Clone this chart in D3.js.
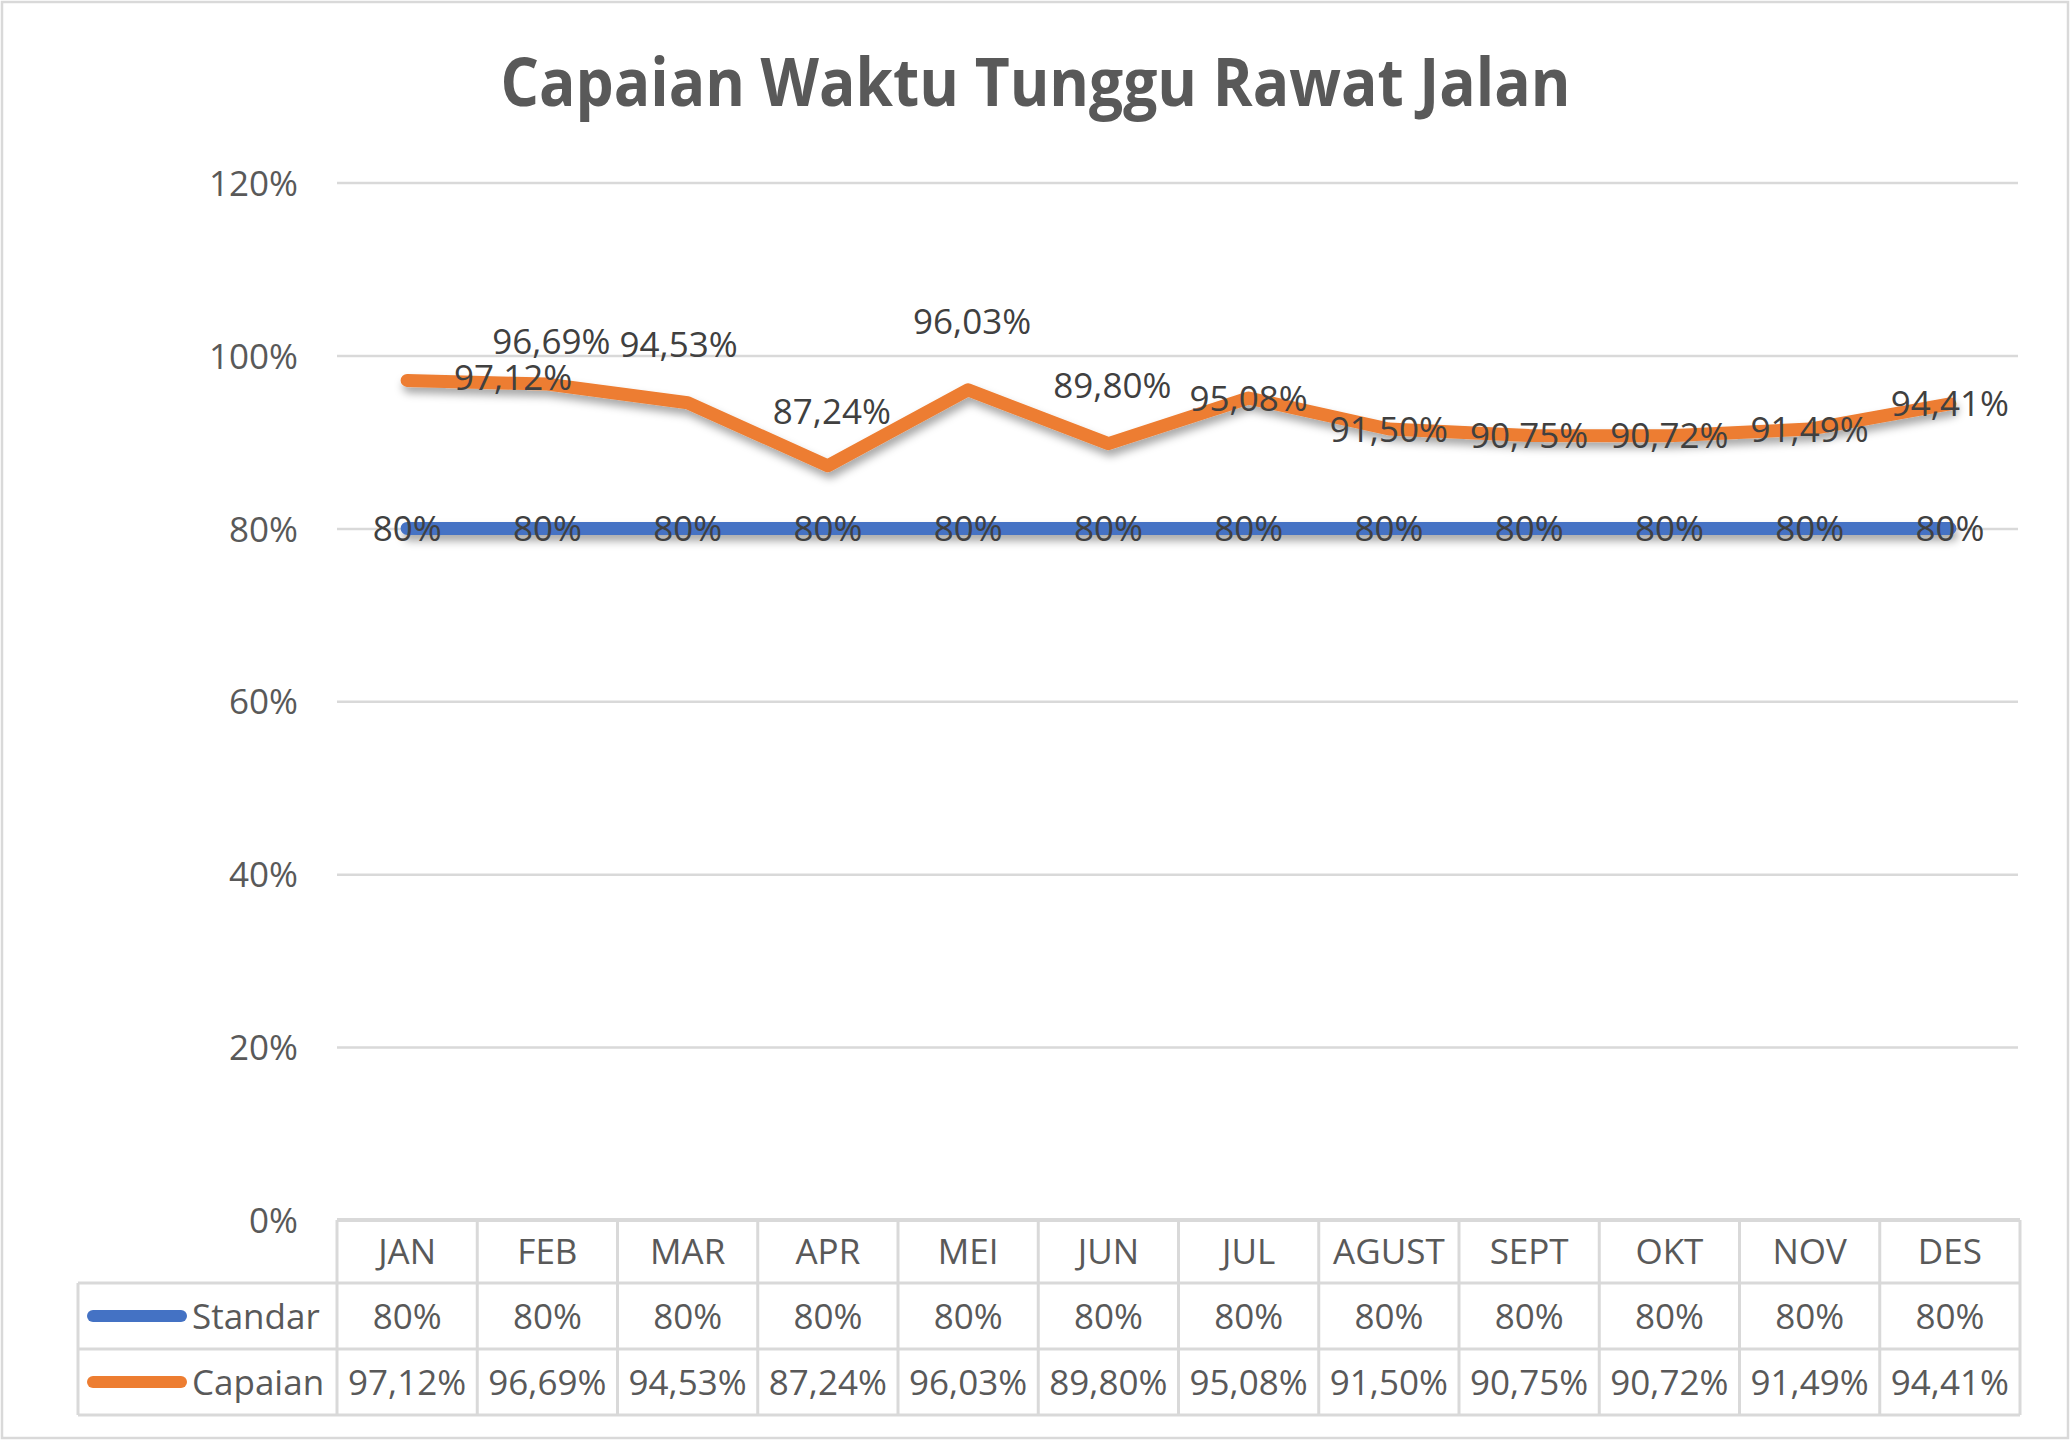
<!DOCTYPE html>
<html>
<head>
<meta charset="utf-8">
<script src="https://cdn.jsdelivr.net/npm/d3@7"></script>
<style>
  html, body { margin: 0; padding: 0; background: #fff; }
  svg { display: block; }
</style>
</head>
<body>
<script>
// ---------- data ----------
const chartTitle = "Capaian Waktu Tunggu Rawat Jalan";
const months = ["JAN","FEB","MAR","APR","MEI","JUN","JUL","AGUST","SEPT","OKT","NOV","DES"];
const standar = [0.80,0.80,0.80,0.80,0.80,0.80,0.80,0.80,0.80,0.80,0.80,0.80];
const capaian = [0.9712,0.9669,0.9453,0.8724,0.9603,0.8980,0.9508,0.9150,0.9075,0.9072,0.9149,0.9441];
const seriesNames = ["Standar","Capaian"];
const yTicks = [0,0.2,0.4,0.6,0.8,1.0,1.2];

// ---------- layout (not data) ----------
const W = 2071, H = 1440;
const plotLeft = 337, plotRight = 2020, plotTop = 182.6, plotBottom = 1220;
const rowLines = [1220, 1283, 1349, 1415];
const tableLeft = 78;
const colors = { Standar: "#4472C4", Capaian: "#ED7D31" };
const fontFam = "'Open Sans', 'Noto Sans', sans-serif";
const fs = 35;
// label offsets (px) for the Capaian data labels, as placed in the original
const capLabelOffset = [[106,-3],[4,-43],[-9,-58],[4,-54],[4,-68],[4,-58],[0,0],[0,0],[0,0],[0,0],[0,0],[0,0]];

const locale = d3.formatLocale({decimal: ",", thousands: ".", grouping: [3], currency: ["Rp", ""]});
const fmt2 = locale.format(".2%");
const fmt0 = locale.format(".0%");

const svg = d3.select("body").append("svg").attr("width", W).attr("height", H);

const defs = svg.append("defs");
const f = defs.append("filter").attr("id", "shadow").attr("filterUnits", "userSpaceOnUse")
  .attr("x", 0).attr("y", 0).attr("width", W).attr("height", H);
f.append("feDropShadow").attr("dx", 2).attr("dy", 6).attr("stdDeviation", 4)
  .attr("flood-color", "#000").attr("flood-opacity", 0.35);

// outer border
svg.append("rect").attr("x", 2).attr("y", 2).attr("width", 2066).attr("height", 1436)
  .attr("fill", "#fff").attr("stroke", "#D9D9D9").attr("stroke-width", 2.5);

// title
svg.append("text")
  .attr("x", W / 2).attr("y", 106)
  .attr("text-anchor", "middle")
  .attr("font-family", fontFam).attr("font-weight", 700).attr("font-size", 66)
  .attr("fill", "#595959")
  .attr("textLength", 1070).attr("lengthAdjust", "spacingAndGlyphs")
  .text(chartTitle);

// scales
const x = d3.scaleBand().domain(months).range([plotLeft, plotRight]).padding(0);
const cx = m => x(m) + x.bandwidth() / 2;
const y = d3.scaleLinear().domain([0, 1.2]).range([plotBottom, plotTop]);

// y axis + gridlines
const yAxis = d3.axisLeft(y).tickValues(yTicks).tickFormat(fmt0)
  .tickSize(-(plotRight - plotLeft - 2)).tickPadding(39);
const gy = svg.append("g").attr("transform", `translate(${plotLeft},0)`).call(yAxis);
gy.select(".domain").remove();
gy.selectAll(".tick line").attr("stroke", "#D9D9D9").attr("stroke-width", 2.5)
  .filter(d => d === 0).remove();
gy.selectAll(".tick text").attr("font-family", fontFam).attr("font-size", fs)
  .attr("fill", "#595959").attr("dy", "0.36em");

// lines
const lineGen = d3.line().x((d, i) => cx(months[i])).y(d => y(d));
const seriesData = { Standar: standar, Capaian: capaian };
seriesNames.forEach(name => {
  svg.append("path").datum(seriesData[name])
    .attr("d", lineGen)
    .attr("fill", "none")
    .attr("stroke", colors[name])
    .attr("stroke-width", 13)
    .attr("stroke-linejoin", "round")
    .attr("stroke-linecap", "round")
    .attr("filter", "url(#shadow)");
});

// data labels
const lbl = svg.append("g").attr("font-family", fontFam).attr("font-size", fs)
  .attr("fill", "#404040").attr("text-anchor", "middle");
lbl.selectAll("text.std").data(standar).join("text").attr("class", "std")
  .attr("x", (d, i) => cx(months[i]))
  .attr("y", d => y(d) + fs * 0.36)
  .text(d => fmt0(d));
lbl.selectAll("text.cap").data(capaian).join("text").attr("class", "cap")
  .attr("x", (d, i) => cx(months[i]) + capLabelOffset[i][0])
  .attr("y", (d, i) => y(d) + capLabelOffset[i][1] + fs * 0.36)
  .text(d => fmt2(d));

// data table
const tbl = svg.append("g");
const grid = "#D9D9D9";
// top (axis) line
tbl.append("line").attr("x1", plotLeft).attr("x2", plotRight).attr("y1", rowLines[0]).attr("y2", rowLines[0])
  .attr("stroke", grid).attr("stroke-width", 4);
rowLines.slice(1).forEach(ry => {
  tbl.append("line").attr("x1", tableLeft).attr("x2", plotRight).attr("y1", ry).attr("y2", ry)
    .attr("stroke", grid).attr("stroke-width", 3);
});
const colEdges = months.map(m => x(m)).concat([plotRight]);
tbl.selectAll("line.v").data(colEdges).join("line").attr("class", "v")
  .attr("x1", d => d).attr("x2", d => d)
  .attr("y1", rowLines[0]).attr("y2", rowLines[3])
  .attr("stroke", grid).attr("stroke-width", 3);
tbl.append("line").attr("x1", tableLeft).attr("x2", tableLeft).attr("y1", rowLines[1]).attr("y2", rowLines[3])
  .attr("stroke", grid).attr("stroke-width", 3);

const tText = tbl.append("g").attr("font-family", fontFam).attr("font-size", fs)
  .attr("fill", "#595959").attr("text-anchor", "middle");
const rowMid = i => (rowLines[i] + rowLines[i + 1]) / 2 + fs * 0.36;
tText.selectAll("text.h").data(months).join("text").attr("class", "h")
  .attr("x", d => cx(d)).attr("y", rowMid(0)).text(d => d);
tText.selectAll("text.s").data(standar).join("text").attr("class", "s")
  .attr("x", (d, i) => cx(months[i])).attr("y", rowMid(1)).text(d => fmt0(d));
tText.selectAll("text.c").data(capaian).join("text").attr("class", "c")
  .attr("x", (d, i) => cx(months[i])).attr("y", rowMid(2)).text(d => fmt2(d));

// legend keys in table
seriesNames.forEach((name, k) => {
  const ym = (rowLines[k + 1] + rowLines[k + 2]) / 2;
  tbl.append("line").attr("x1", 93).attr("x2", 181).attr("y1", ym).attr("y2", ym)
    .attr("stroke", colors[name]).attr("stroke-width", 12).attr("stroke-linecap", "round");
  tbl.append("text").attr("x", 192).attr("y", ym + fs * 0.36)
    .attr("font-family", fontFam).attr("font-size", fs).attr("fill", "#595959")
    .text(name);
});
</script>
</body>
</html>
